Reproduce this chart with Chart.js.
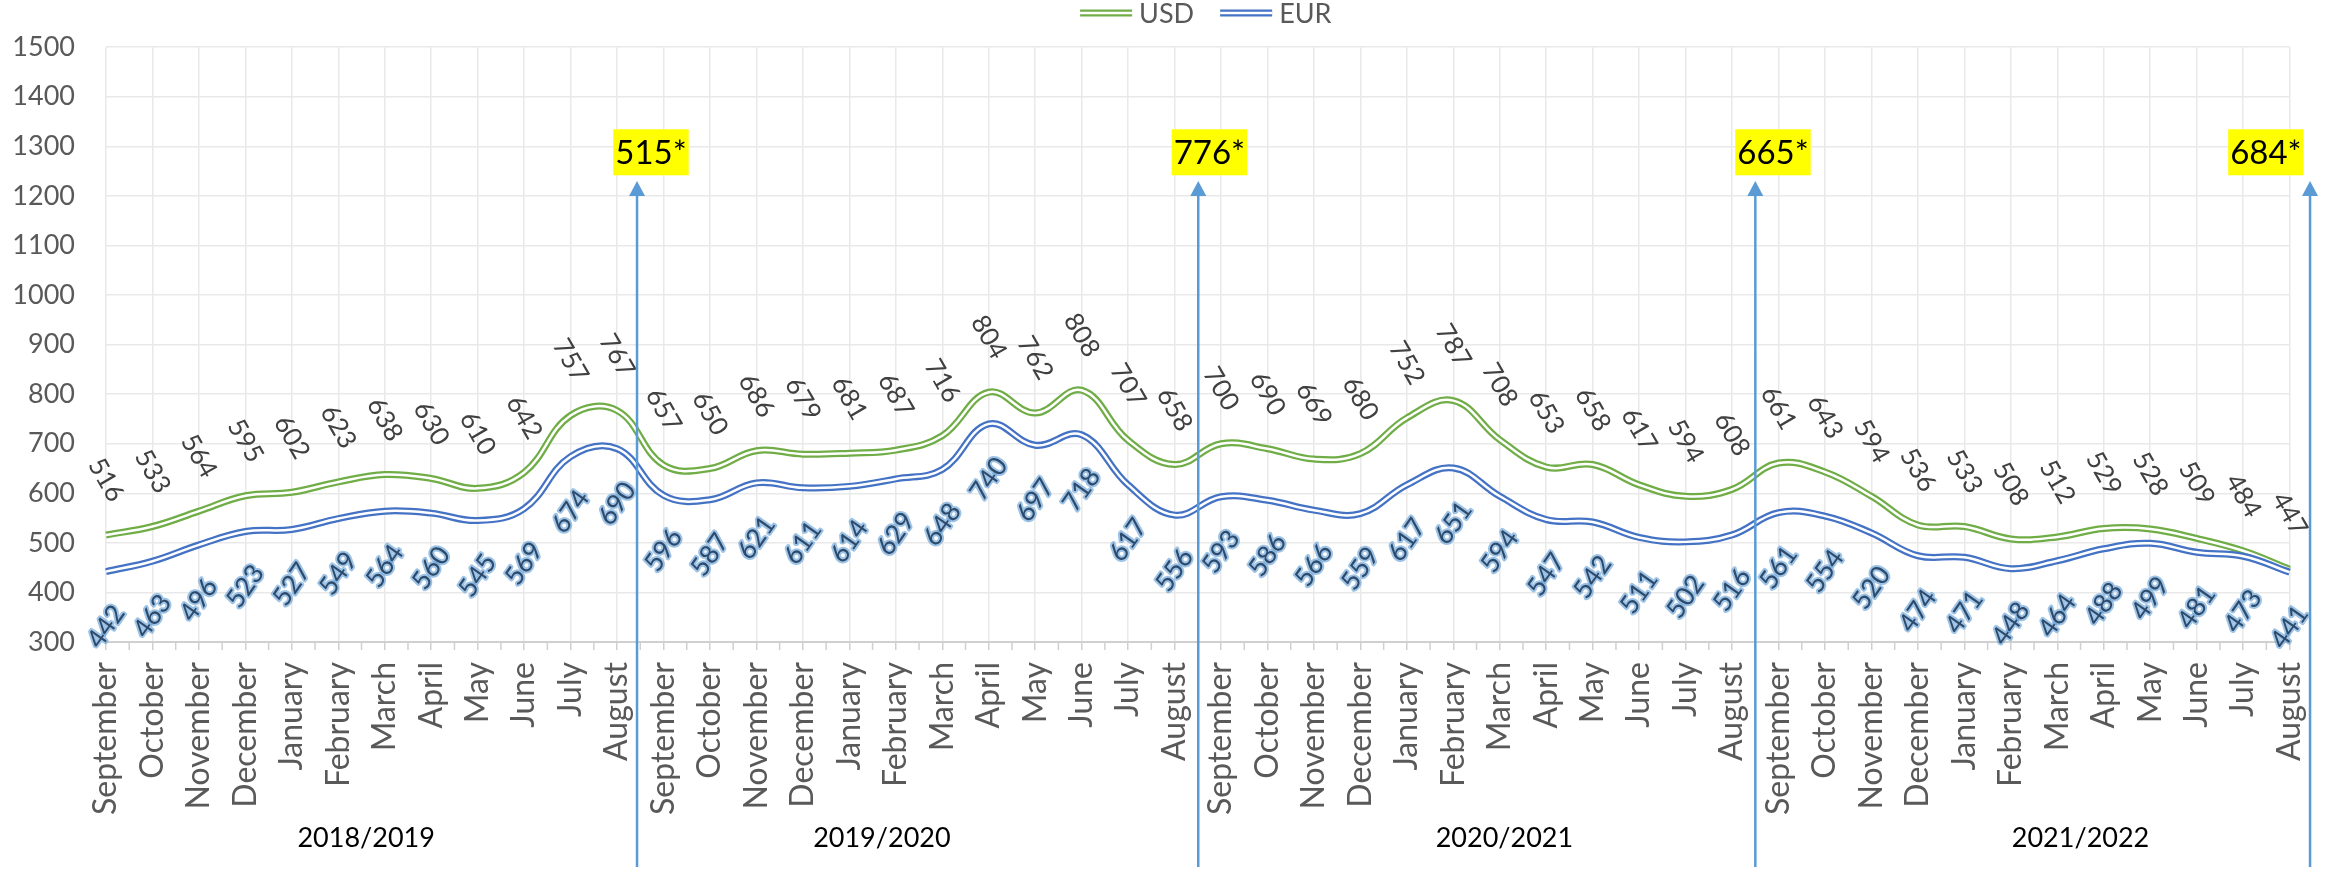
<!DOCTYPE html>
<html lang="en">
<head>
    <meta charset="UTF-8">
    <title>USD / EUR</title>
    <style>
        html, body {
            margin: 0;
            padding: 0;
            background: #ffffff;
        }

        .chart-container {
            width: 2340px;
            height: 887px;
            position: relative;
        }
    </style>
</head>
<body>
    <div class="chart-container">
        <canvas id="rateChart"></canvas>
    </div>

    <script src="https://cdn.jsdelivr.net/npm/chart.js"></script>
    <script>
        const months = ['September', 'October', 'November', 'December', 'January', 'February',
                        'March', 'April', 'May', 'June', 'July', 'August'];
        const seasons = ['2018/2019', '2019/2020', '2020/2021', '2021/2022'];

        const usd = [516, 533, 564, 595, 602, 623, 638, 630, 610, 642, 757, 767,
                     657, 650, 686, 679, 681, 687, 716, 804, 762, 808, 707, 658,
                     700, 690, 669, 680, 752, 787, 708, 653, 658, 617, 594, 608,
                     661, 643, 594, 536, 533, 508, 512, 529, 528, 509, 484, 447];
        const eur = [442, 463, 496, 523, 527, 549, 564, 560, 545, 569, 674, 690,
                     596, 587, 621, 611, 614, 629, 648, 740, 697, 718, 617, 556,
                     593, 586, 566, 559, 617, 651, 594, 547, 542, 511, 502, 516,
                     561, 554, 520, 474, 471, 448, 464, 488, 499, 481, 473, 441];

        // season notes: arrow position (in category units), box position, label
        const arrowAt = [11.43, 23.51, 35.5, 47.44];
        const boxAt = [11.73, 23.75, 35.88, 46.49];
        const boxLabels = ['515*', '776*', '665*', '684*'];
        const arrowTipValue = 1230;
        const boxValue = 1288;
        const seasonAt = [5.6, 16.7, 30.1, 42.5];

        const GREEN = '#70AD47';
        const BLUE = '#4472C4';
        const FONT = 'Lato, "Open Sans", sans-serif';

        const labels = seasons.flatMap(() => months);

        function lineSet(label, data, color, width, order) {
            return {
                label: label,
                data: data,
                borderColor: color,
                backgroundColor: color,
                borderWidth: width,
                pointRadius: 0,
                pointHoverRadius: 0,
                tension: 0.4,
                fill: false,
                order: order
            };
        }

        function drawDoubleLine(ctx, x1, y1, x2, y2, color) {
            ctx.save();
            ctx.lineCap = 'butt';
            ctx.strokeStyle = color;
            ctx.lineWidth = 7;
            ctx.beginPath(); ctx.moveTo(x1, y1); ctx.lineTo(x2, y2); ctx.stroke();
            ctx.strokeStyle = '#ffffff';
            ctx.lineWidth = 2.5;
            ctx.beginPath(); ctx.moveTo(x1, y1); ctx.lineTo(x2, y2); ctx.stroke();
            ctx.restore();
        }

        const overlay = {
            id: 'overlay',
            afterDatasetsDraw(chart) {
                const ctx = chart.ctx;
                const area = chart.chartArea;
                const xs = chart.scales.x;

                // half-step tick marks under the axis
                ctx.save();
                ctx.strokeStyle = '#D0D0D0';
                ctx.lineWidth = 1.5;
                for (let i = 0; i < labels.length - 1; i++) {
                    const px = xs.getPixelForValue(i + 0.5);
                    ctx.beginPath();
                    ctx.moveTo(px, area.bottom);
                    ctx.lineTo(px, area.bottom + 8);
                    ctx.stroke();
                }
                ctx.restore();

                // value labels
                const usdMeta = chart.getDatasetMeta(0);
                const eurMeta = chart.getDatasetMeta(2);
                ctx.save();
                ctx.font = '26px ' + FONT;
                ctx.textAlign = 'center';
                ctx.textBaseline = 'middle';
                usdMeta.data.forEach((pt, i) => {
                    ctx.save();
                    ctx.translate(pt.x, pt.y - 55);
                    ctx.rotate(Math.PI / 3);
                    ctx.fillStyle = '#404040';
                    ctx.fillText(String(usd[i]), 0, 0);
                    ctx.restore();
                });
                eurMeta.data.forEach((pt, i) => {
                    ctx.save();
                    ctx.translate(pt.x, pt.y + 55);
                    ctx.rotate(-55 * Math.PI / 180);
                    ctx.lineJoin = 'round';
                    ctx.lineWidth = 4;
                    ctx.strokeStyle = 'rgba(91, 155, 213, 0.6)';
                    ctx.strokeText(String(eur[i]), 0, 0);
                    ctx.fillStyle = '#2E4A6B';
                    ctx.fillText(String(eur[i]), 0, 0);
                    ctx.restore();
                });
                ctx.restore();
            },
            afterDraw(chart) {
                const ctx = chart.ctx;
                const area = chart.chartArea;
                const xs = chart.scales.x;
                const ys = chart.scales.y;

                // arrows
                ctx.save();
                ctx.strokeStyle = '#5B9BD5';
                ctx.fillStyle = '#5B9BD5';
                ctx.lineWidth = 2.5;
                arrowAt.forEach(pos => {
                    const px = xs.getPixelForValue(pos);
                    const tip = ys.getPixelForValue(arrowTipValue);
                    ctx.beginPath();
                    ctx.moveTo(px, area.bottom + 225);
                    ctx.lineTo(px, tip + 12);
                    ctx.stroke();
                    ctx.beginPath();
                    ctx.moveTo(px, tip);
                    ctx.lineTo(px - 8, tip + 15);
                    ctx.lineTo(px + 8, tip + 15);
                    ctx.closePath();
                    ctx.fill();
                });
                ctx.restore();

                // yellow boxes
                ctx.save();
                ctx.font = '33px ' + FONT;
                ctx.textAlign = 'center';
                ctx.textBaseline = 'middle';
                boxAt.forEach((pos, i) => {
                    const cx = xs.getPixelForValue(pos);
                    const cy = ys.getPixelForValue(boxValue);
                    const w = ctx.measureText(boxLabels[i]).width + 4;
                    ctx.fillStyle = '#FFFF00';
                    ctx.fillRect(cx - w / 2, cy - 23, w, 46);
                    ctx.fillStyle = '#000000';
                    ctx.fillText(boxLabels[i], cx, cy + 1);
                });
                ctx.restore();

                // season names
                ctx.save();
                ctx.font = '27px ' + FONT;
                ctx.textAlign = 'center';
                ctx.textBaseline = 'middle';
                ctx.fillStyle = '#000000';
                seasons.forEach((s, i) => {
                    ctx.fillText(s, xs.getPixelForValue(seasonAt[i]), area.bottom + 196);
                });
                ctx.restore();

                // legend
                ctx.save();
                ctx.font = '27px ' + FONT;
                ctx.textBaseline = 'middle';
                ctx.fillStyle = '#595959';
                const items = [['USD', GREEN], ['EUR', BLUE]];
                const lineLen = 52, gap = 7, itemGap = 26;
                let total = 0;
                items.forEach(([t], i) => {
                    total += lineLen + gap + ctx.measureText(t).width + (i < items.length - 1 ? itemGap : 0);
                });
                let lx = (area.left + area.right) / 2 - total / 2 + 8;
                const ly = 13;
                items.forEach(([t, c]) => {
                    drawDoubleLine(ctx, lx, ly, lx + lineLen, ly, c);
                    lx += lineLen + gap;
                    ctx.fillText(t, lx, ly + 1);
                    lx += ctx.measureText(t).width + itemGap;
                });
                ctx.restore();
            }
        };

        const ctx = document.getElementById('rateChart').getContext('2d');
        const rateChart = new Chart(ctx, {
            type: 'line',
            data: {
                labels: labels,
                datasets: [
                    lineSet('USD', usd, GREEN, 7, 4),
                    lineSet('USD', usd, '#ffffff', 2.5, 3),
                    lineSet('EUR', eur, BLUE, 7, 2),
                    lineSet('EUR', eur, '#ffffff', 2.5, 1)
                ]
            },
            options: {
                responsive: true,
                maintainAspectRatio: false,
                animation: false,
                layout: {
                    padding: { top: 20, right: 37, left: 0, bottom: 0 }
                },
                plugins: {
                    legend: { display: false },
                    tooltip: { enabled: false }
                },
                scales: {
                    x: {
                        afterFit: s => { s.height = 245; },
                        grid: {
                            color: '#E9E9E9',
                            lineWidth: 1.5,
                            tickColor: '#D0D0D0',
                            tickLength: 8
                        },
                        border: { color: '#D0D0D0', width: 2 },
                        ticks: {
                            autoSkip: false,
                            minRotation: 90,
                            maxRotation: 90,
                            padding: 12,
                            color: '#595959',
                            font: { family: FONT, size: 32 }
                        }
                    },
                    y: {
                        min: 300,
                        max: 1500,
                        afterFit: s => { s.width = 106; },
                        grid: {
                            color: '#E9E9E9',
                            lineWidth: 1.5,
                            drawTicks: false
                        },
                        border: { display: false },
                        ticks: {
                            stepSize: 100,
                            padding: 31,
                            color: '#595959',
                            font: { family: FONT, size: 27 },
                            callback: v => String(v)
                        }
                    }
                }
            },
            plugins: [overlay]
        });
    </script>
</body>
</html>
